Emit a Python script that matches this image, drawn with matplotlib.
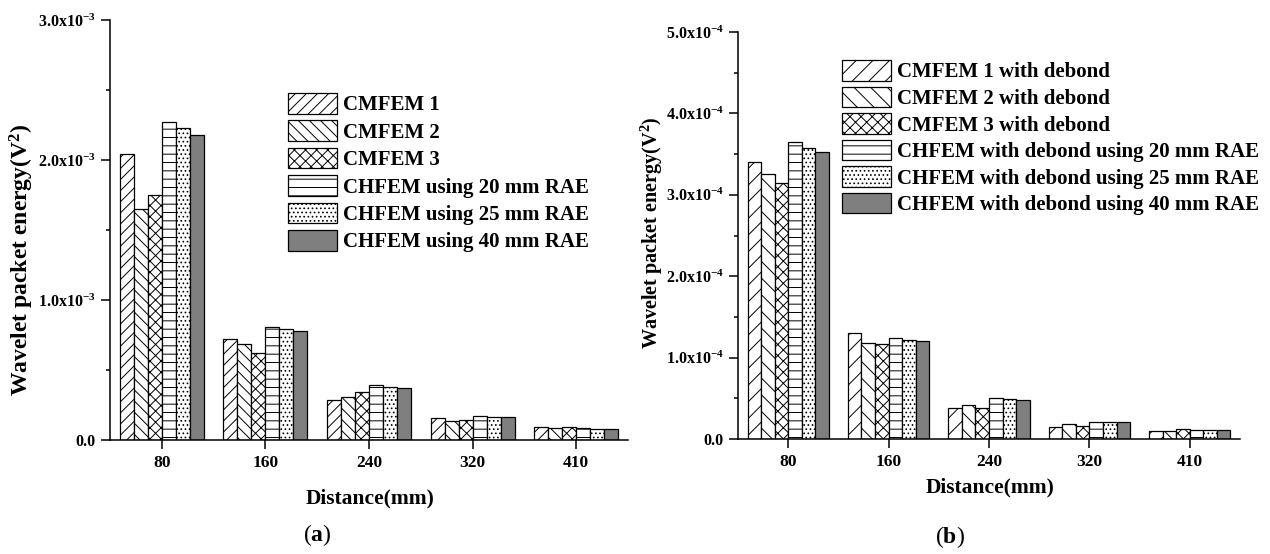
import numpy as np
import matplotlib
matplotlib.use("Agg")
import matplotlib.pyplot as plt

plt.rcParams['font.family'] = ['Liberation Serif', 'DejaVu Serif']
plt.rcParams['font.weight'] = 'bold'
plt.rcParams['mathtext.fontset'] = 'custom'
plt.rcParams['mathtext.rm'] = 'Liberation Serif:bold'
plt.rcParams['mathtext.it'] = 'Liberation Serif:bold'
plt.rcParams['mathtext.bf'] = 'Liberation Serif:bold'
plt.rcParams['hatch.linewidth'] = 0.7

distances = ["80", "160", "240", "320", "410"]

# panel (a): wavelet packet energy, x1e-3 V^2
labels_a = ["CMFEM 1", "CMFEM 2", "CMFEM 3",
            "CHFEM using 20 mm RAE", "CHFEM using 25 mm RAE", "CHFEM using 40 mm RAE"]
cmfem1_a = [2.04, 0.72, 0.285, 0.155, 0.090]
cmfem2_a = [1.65, 0.685, 0.305, 0.136, 0.086]
cmfem3_a = [1.75, 0.62, 0.34, 0.145, 0.090]
chfem20_a = [2.275, 0.81, 0.39, 0.171, 0.083]
chfem25_a = [2.23, 0.795, 0.38, 0.162, 0.076]
chfem40_a = [2.18, 0.78, 0.37, 0.162, 0.076]

# panel (b): with debond, x1e-4 V^2
labels_b = ["CMFEM 1 with debond", "CMFEM 2 with debond", "CMFEM 3 with debond",
            "CHFEM with debond using 20 mm RAE", "CHFEM with debond using 25 mm RAE",
            "CHFEM with debond using 40 mm RAE"]
cmfem1_b = [3.40, 1.30, 0.386, 0.152, 0.100]
cmfem2_b = [3.25, 1.185, 0.42, 0.185, 0.100]
cmfem3_b = [3.15, 1.165, 0.377, 0.163, 0.120]
chfem20_b = [3.645, 1.24, 0.50, 0.21, 0.107]
chfem25_b = [3.58, 1.22, 0.49, 0.21, 0.107]
chfem40_b = [3.53, 1.205, 0.485, 0.21, 0.110]

series_a = [cmfem1_a, cmfem2_a, cmfem3_a, chfem20_a, chfem25_a, chfem40_a]
series_b = [cmfem1_b, cmfem2_b, cmfem3_b, chfem20_b, chfem25_b, chfem40_b]

W, H = 1270, 554
fig = plt.figure(figsize=(12.7, 5.54), dpi=100)

def px_axes(x0, y0, x1, y1):
    return fig.add_axes([x0 / W, 1 - y1 / H, (x1 - x0) / W, (y1 - y0) / H])

ax_a = px_axes(110, 20, 628, 440)
ax_b = px_axes(738, 32, 1240, 439)


def draw_panel(ax, series, labels, scale, ymax, nmaj, exp, hatches):
    x = np.arange(len(distances))
    bw = 0.135
    handles = []
    for i, vals in enumerate(series):
        fc = '#7f7f7f' if i == 5 else 'white'
        h = ax.bar(x + (i - 2.5) * bw, np.array(vals) * scale, bw,
                   facecolor=fc, edgecolor='black', linewidth=0.9,
                   hatch=hatches[i], label=labels[i])
        handles.append(h)
    ax.set_xlim(-0.5, len(distances) - 0.5)
    ax.set_ylim(0, ymax * scale)
    ax.set_xticks(x)
    ax.set_xticklabels(distances, fontsize=12.5, fontweight='bold')
    step = ymax / nmaj
    ax.set_yticks([k * step * scale for k in range(nmaj + 1)])
    ax.set_yticklabels(["0.0"] + ["%.1fx10$^{%d}$" % (k * step, exp) for k in range(1, nmaj + 1)],
                       fontsize=11.5)
    ax.set_yticks([(k + 0.5) * step * scale for k in range(nmaj)], minor=True)
    for s in ['top', 'right']:
        ax.spines[s].set_visible(False)
    for s in ['left', 'bottom']:
        ax.spines[s].set_linewidth(1.1)
    ax.tick_params(axis='both', which='major', direction='out', length=6.5, width=1.1, pad=4)
    ax.tick_params(axis='y', which='minor', direction='out', length=3, width=1.1)
    ax.tick_params(axis='x', which='minor', bottom=False)
    return handles


hatch_a = ['///', '\\\\\\', 'xxx', '--', '....', '']
hatch_b = ['//', '\\\\', 'xxx', '--', '....', '']

ha = draw_panel(ax_a, series_a, labels_a, 1e-3, 3.0, 3, -3, hatch_a)
hb = draw_panel(ax_b, series_b, labels_b, 1e-4, 5.0, 5, -4, hatch_b)

leg_kw = dict(frameon=False, handlelength=2.35, handleheight=1.15,
              handletextpad=0.3, borderpad=0, borderaxespad=0,
              loc='upper left', prop={'weight': 'bold', 'size': 15})
fig.legend(handles=ha, bbox_to_anchor=(288 / W, 1 - 93 / H), labelspacing=0.24, **leg_kw)
fig.legend(handles=hb, bbox_to_anchor=(842 / W, 1 - 60 / H), labelspacing=0.2, **leg_kw)

# axis labels
fig.text(22 / W, 1 - 260 / H, "Wavelet packet energy(V$^{2}$)", rotation=90,
         ha='center', va='center', fontsize=17, fontweight='bold')
fig.text(652 / W, 1 - 233 / H, "Wavelet packet energy(V$^{2}$)", rotation=90,
         ha='center', va='center', fontsize=14.5, fontweight='bold')
fig.text(370 / W, 1 - 498 / H, "Distance(mm)", ha='center', va='center',
         fontsize=15.5, fontweight='bold')
fig.text(990 / W, 1 - 487 / H, "Distance(mm)", ha='center', va='center',
         fontsize=15.5, fontweight='bold')

# panel captions
fig.text(317 / W, 1 - 535 / H, "($\\mathbf{a}$)", ha='center', va='center',
         fontsize=17, fontweight='normal')
fig.text(950 / W, 1 - 537 / H, "($\\mathbf{b}$)", ha='center', va='center',
         fontsize=17, fontweight='normal')

fig.savefig("out.png", dpi=100)
